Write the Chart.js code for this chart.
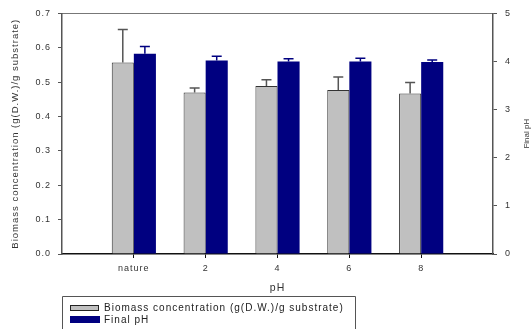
<!DOCTYPE html>
<html>
<head>
<meta charset="utf-8">
<script src="https://cdn.jsdelivr.net/npm/chart.js@4.4.1/dist/chart.umd.min.js"></script>
<style>
  html, body { margin: 0; padding: 0; background: #fff; }
  #wrap { width: 531px; height: 329px; }
</style>
</head>
<body>
<div id="wrap"><canvas id="phChart" width="531" height="329"></canvas></div>
<script>
const categories = ['nature', '2', '4', '6', '8'];
const biomass = [0.557, 0.470, 0.489, 0.477, 0.467];
const biomassErr = [0.096, 0.013, 0.018, 0.038, 0.032];
const finalPH = [4.16, 4.02, 4.00, 4.00, 3.99];
const finalPHErr = [0.15, 0.09, 0.06, 0.07, 0.04];
const leftTicks = [0, 0.1, 0.2, 0.3, 0.4, 0.5, 0.6, 0.7];
const rightTicks = [0, 1, 2, 3, 4, 5];

const biomassLabel = 'Biomass concentration (g(D.W.)/g substrate)';
const phLabel = 'Final pH';
const grayFill = '#c0c0c0';
const navy = '#000080';

// empty slots at both ends so the categories sit inside the frame like the original
const labels = [''].concat(categories, ['']);
const pad = function (arr) { return [null].concat(arr, [null]); };

Chart.defaults.font.family = 'Arial, "Liberation Sans", sans-serif';
Chart.defaults.color = '#333';

const spacing = {
  id: 'spacing',
  beforeInit: function (chart) { chart.ctx.letterSpacing = '1px'; },
  beforeDraw: function (chart) { chart.ctx.letterSpacing = '1px'; }
};

const errorBars = {
  id: 'errorBars',
  afterDatasetsDraw: function (chart) {
    const ctx = chart.ctx;
    chart.data.datasets.forEach(function (ds, i) {
      const meta = chart.getDatasetMeta(i);
      const scale = chart.scales[ds.yAxisID];
      meta.data.forEach(function (bar, j) {
        const v = ds.data[j], e = ds.errors[j];
        if (v == null || e == null) return;
        const top = scale.getPixelForValue(v + e);
        ctx.save();
        ctx.strokeStyle = ds.errorColor;
        ctx.lineWidth = 1.5;
        ctx.beginPath();
        ctx.moveTo(bar.x, bar.y);
        ctx.lineTo(bar.x, top);
        ctx.moveTo(bar.x - 5, top);
        ctx.lineTo(bar.x + 5, top);
        ctx.stroke();
        ctx.restore();
      });
    });
  }
};

const extras = {
  id: 'extras',
  afterDraw: function (chart) {
    const ctx = chart.ctx;
    const area = chart.chartArea;
    ctx.save();
    // right axis title, reading bottom to top
    ctx.font = '8px Arial, "Liberation Sans", sans-serif';
    ctx.fillStyle = '#333';
    ctx.letterSpacing = '0px';
    ctx.textAlign = 'center';
    ctx.textBaseline = 'middle';
    ctx.translate(527, (area.top + area.bottom) / 2);
    ctx.rotate(-Math.PI / 2);
    ctx.fillText(phLabel, 0, 0);
    ctx.restore();

    // legend box
    const left = area.left;
    const top = 296;
    ctx.save();
    ctx.strokeStyle = '#555';
    ctx.lineWidth = 1;
    ctx.beginPath();
    ctx.moveTo(left + 0.5, chart.height + 2);
    ctx.lineTo(left + 0.5, top + 0.5);
    ctx.lineTo(355.5, top + 0.5);
    ctx.lineTo(355.5, chart.height + 2);
    ctx.stroke();
    ctx.font = '10px Arial, "Liberation Sans", sans-serif';
    ctx.letterSpacing = '1px';
    ctx.textBaseline = 'middle';
    ctx.fillStyle = grayFill;
    ctx.fillRect(left + 8, top + 9, 29, 6);
    ctx.strokeStyle = '#222';
    ctx.strokeRect(left + 8.5, top + 9.5, 28, 5);
    ctx.fillStyle = navy;
    ctx.fillRect(left + 8, top + 20, 30, 7);
    ctx.fillStyle = '#222';
    ctx.fillText(biomassLabel, left + 42, top + 12);
    ctx.fillText(phLabel, left + 42, top + 24);
    ctx.restore();
  }
};

new Chart(document.getElementById('phChart').getContext('2d'), {
  type: 'bar',
  data: {
    labels: labels,
    datasets: [{
      label: biomassLabel,
      data: pad(biomass),
      errors: pad(biomassErr),
      errorColor: '#555',
      yAxisID: 'y',
      backgroundColor: grayFill,
      borderColor: '#333',
      borderWidth: { top: 1, left: 1, right: 1, bottom: 0 },
      categoryPercentage: 0.615,
      barPercentage: 1
    }, {
      label: phLabel,
      data: pad(finalPH),
      errors: pad(finalPHErr),
      errorColor: navy,
      yAxisID: 'y2',
      backgroundColor: navy,
      borderWidth: 0,
      categoryPercentage: 0.615,
      barPercentage: 1
    }]
  },
  options: {
    responsive: false,
    animation: false,
    layout: { padding: { top: 13, bottom: 30, left: 0, right: 0 } },
    plugins: {
      legend: { display: false },
      tooltip: { enabled: false }
    },
    scales: {
      x: {
        offset: false,
        afterFit: function (s) { s.height = 45; },
        border: { color: '#111', width: 1.5 },
        grid: {
          offset: false,
          drawOnChartArea: false,
          tickLength: 4,
          color: function (c) { return (c.index === 0 || c.index === labels.length - 1) ? 'rgba(0,0,0,0)' : '#111'; }
        },
        ticks: { font: { size: 9 }, padding: 5, maxRotation: 0, autoSkip: false },
        title: { display: true, text: 'pH', font: { size: 10.5 }, padding: { top: 0, bottom: 5 } }
      },
      xTop: {
        position: 'top',
        offset: false,
        afterFit: function (s) { s.height = 0; },
        border: { color: '#777', width: 1 },
        grid: { display: false },
        ticks: { display: false }
      },
      y: {
        position: 'left',
        min: 0,
        max: 0.7,
        afterFit: function (s) { s.width = 62; },
        afterBuildTicks: function (s) { s.ticks = leftTicks.map(function (v) { return { value: v }; }); },
        border: { color: '#555', width: 1.5 },
        grid: { drawOnChartArea: false, tickLength: 4, color: '#555' },
        ticks: { font: { size: 9 }, padding: 7, callback: function (v) { return v.toFixed(1); } },
        title: { display: true, text: biomassLabel, font: { size: 9.5 }, padding: { top: 10, bottom: 0 } }
      },
      y2: {
        position: 'right',
        min: 0,
        max: 5,
        afterFit: function (s) { s.width = 38; },
        afterBuildTicks: function (s) { s.ticks = rightTicks.map(function (v) { return { value: v }; }); },
        border: { color: '#555', width: 1.5 },
        grid: { drawOnChartArea: false, tickLength: 4, color: '#555' },
        ticks: { font: { size: 9 }, padding: 8 }
      }
    }
  },
  plugins: [spacing, errorBars, extras]
});
</script>
</body>
</html>
